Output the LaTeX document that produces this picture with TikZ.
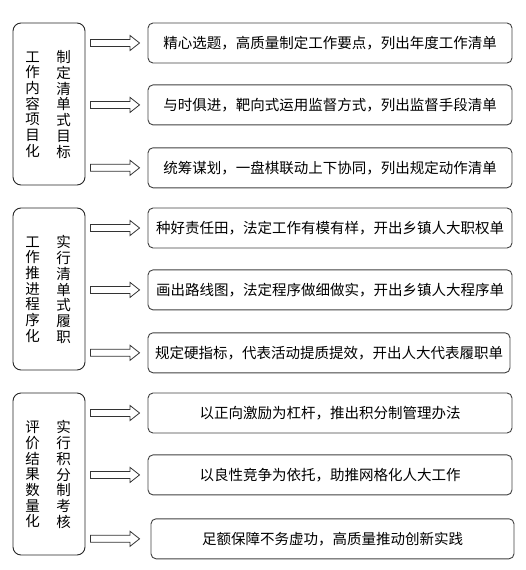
\documentclass[tikz,border=0pt]{standalone}
\usepackage{fontspec}
\setmainfont{Noto Sans CJK SC}
\usetikzlibrary{positioning, calc}

\begin{document}
\begin{tikzpicture}[
    x=1pt, y=-1pt,
    font=\fontsize{14.5}{15.7}\selectfont,
    catbox/.style={rectangle, draw=black!85, line width=0.9pt, rounded corners=8pt, minimum width=72pt, minimum height=162pt},
    itembox/.style={rectangle, draw=black!75, line width=0.9pt, rounded corners=5pt, minimum width=364pt, minimum height=40pt, inner sep=0pt},
    vtext/.style={align=center, inner sep=0pt},
    blockarrow/.style={draw=black!80, line width=0.8pt, fill=white,
        to path={($(\tikztostart)+(0,-3.5)$) -- ($(\tikztotarget)+(-9.5,-3.5)$) -- ($(\tikztotarget)+(-9.5,-7.5)$) -- (\tikztotarget)
                 -- ($(\tikztotarget)+(-9.5,7.5)$) -- ($(\tikztotarget)+(-9.5,3.5)$) -- ($(\tikztostart)+(0,3.5)$) -- cycle}}
]
    \useasboundingbox (0,0) rectangle (526,570);

    % Category boxes
    \node[catbox] (cat1) at (49,104) {};
    \node[catbox] (cat2) at (49,289) {};
    \node[catbox] (cat3) at (49,474) {};

    \node[vtext] (cat1a) at (32.5,104.5) {工\\作\\内\\容\\项\\目\\化};
    \node[vtext] (cat1b) at (63.5,104.5) {制\\定\\清\\单\\式\\目\\标};
    \node[vtext] (cat2a) at (32.5,289.5) {工\\作\\推\\进\\程\\序\\化};
    \node[vtext] (cat2b) at (63.5,289.5) {实\\行\\清\\单\\式\\履\\职};
    \node[vtext] (cat3a) at (32.5,474.5) {评\\价\\结\\果\\数\\量\\化};
    \node[vtext] (cat3b) at (63.5,474.5) {实\\行\\积\\分\\制\\考\\核};

    % Item boxes
    \node[itembox] (item11) at (330,43) {精心选题，高质量制定工作要点，列出年度工作清单};
    \node[itembox, below=21pt of item11] (item12) {与时俱进，靶向式运用监督方式，列出监督手段清单};
    \node[itembox, below=22pt of item12] (item13) {统筹谋划，一盘棋联动上下协同，列出规定动作清单};

    \node[itembox] (item21) at (330,228) {种好责任田，法定工作有模有样，开出乡镇人大职权单};
    \node[itembox, below=21pt of item21] (item22) {画出路线图，法定程序做细做实，开出乡镇人大程序单};
    \node[itembox, below=22pt of item22, xshift=-1pt, minimum width=362pt] (item23) {规定硬指标，代表活动提质提效，开出人大代表履职单};

    \node[itembox] (item31) at (330,413) {以正向激励为杠杆，推出积分制管理办法};
    \node[itembox, below=21pt of item31] (item32) {以良性竞争为依托，助推网格化人大工作};
    \node[itembox, below=23pt of item32, xshift=2.5pt, minimum width=363pt] (item33) {足额保障不务虚功，高质量推动创新实践};

    % Block arrows
    \draw[blockarrow] ($(cat1.east |- item11.west)+(5,0)$) to ($(item11.west)+(-8,0)$);
    \draw[blockarrow] ($(cat1.east |- item12.west)+(5,0)$) to ($(item12.west)+(-8,0)$);
    \draw[blockarrow] ($(cat1.east |- item13.west)+(5,0)$) to ($(item13.west)+(-8,0)$);

    \draw[blockarrow] ($(cat2.east |- item21.west)+(5,0)$) to ($(item21.west)+(-8,0)$);
    \draw[blockarrow] ($(cat2.east |- item22.west)+(5,0)$) to ($(item22.west)+(-8,0)$);
    \draw[blockarrow] ($(cat2.east |- item23.west)+(5,0)$) to ($(item23.west)+(-8,0)$);

    \draw[blockarrow] ($(cat3.east |- item31.west)+(5,0)$) to ($(item31.west)+(-8,0)$);
    \draw[blockarrow] ($(cat3.east |- item32.west)+(5,0)$) to ($(item32.west)+(-8,0)$);
    \draw[blockarrow] ($(cat3.east |- item33.west)+(5,0)$) to ($(item33.west)+(-11,0)$);

\end{tikzpicture}
\end{document}
